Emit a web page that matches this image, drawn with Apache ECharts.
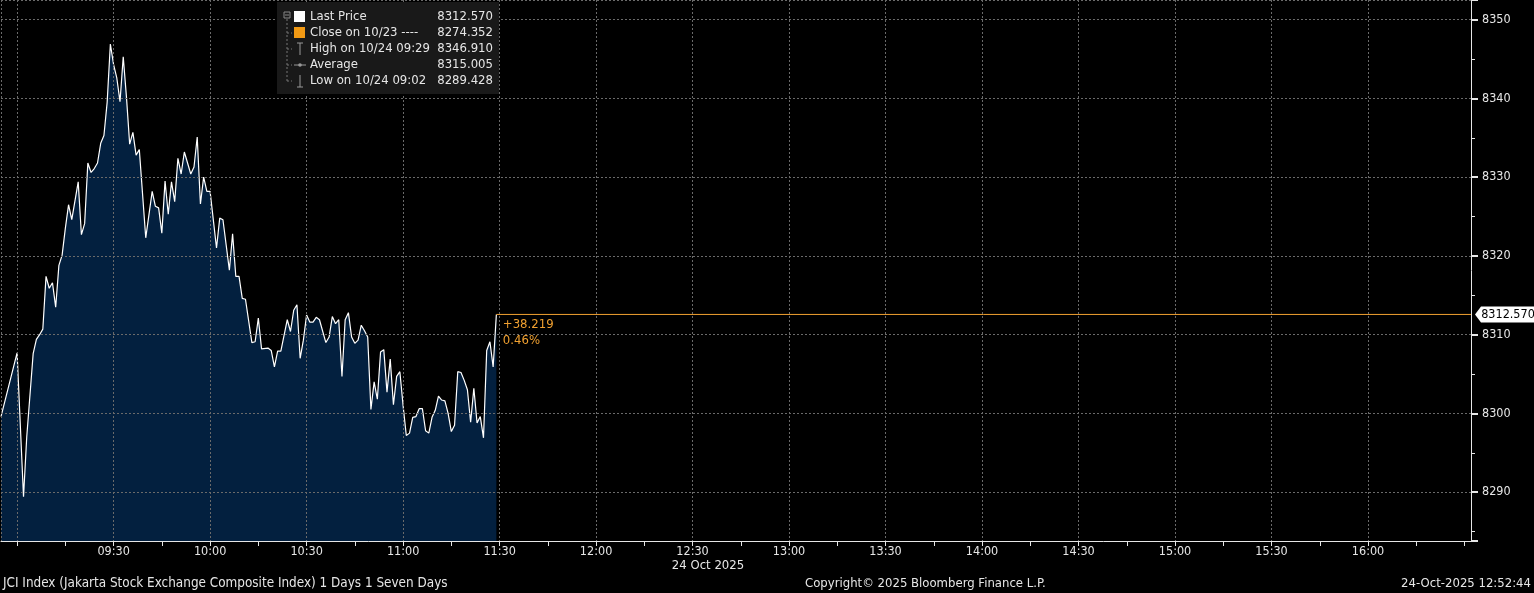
<!DOCTYPE html>
<html><head><meta charset="utf-8">
<script src="https://cdn.jsdelivr.net/npm/echarts@6/dist/echarts.min.js"></script>
<style>html,body{margin:0;padding:0;background:#000;overflow:hidden}#c{width:1534px;height:593px}</style>
</head><body><div id="c"></div><script>
const sessionStart = '08:55';
const sessionEnd = '16:32';
const times = ['08:55','09:00','09:02','09:03','09:05','09:06','09:07','09:08','09:09','09:10','09:11','09:12','09:13','09:14','09:15','09:16','09:17','09:19','09:20','09:21','09:22','09:23','09:24','09:25','09:26','09:27','09:28','09:29','09:30','09:31','09:32','09:33','09:34','09:35','09:36','09:37','09:38','09:40','09:42','09:43','09:44','09:45','09:46','09:47','09:48','09:49','09:50','09:51','09:52','09:54','09:55','09:56','09:57','09:58','09:59','10:00','10:02','10:03','10:04','10:06','10:07','10:08','10:09','10:10','10:11','10:13','10:14','10:15','10:16','10:18','10:19','10:20','10:21','10:22','10:24','10:25','10:26','10:27','10:28','10:29','10:30','10:31','10:32','10:33','10:34','10:36','10:37','10:38','10:39','10:40','10:41','10:42','10:43','10:44','10:45','10:46','10:47','10:48','10:49','10:50','10:51','10:52','10:53','10:54','10:55','10:56','10:57','10:58','10:59','11:00','11:01','11:02','11:03','11:04','11:05','11:06','11:07','11:08','11:09','11:10','11:11','11:12','11:13','11:14','11:15','11:16','11:17','11:18','11:19','11:20','11:21','11:22','11:23','11:24','11:25','11:26','11:27','11:28','11:29'];
const prices = [8299.6,8307.7,8289.43,8297.0,8307.6,8309.4,8310.0,8310.7,8317.4,8315.9,8316.6,8313.5,8318.8,8320.1,8323.5,8326.5,8324.6,8329.4,8322.7,8324.1,8331.8,8330.6,8331.1,8331.8,8334.3,8335.3,8339.5,8346.91,8344.3,8342.6,8339.6,8345.3,8340.2,8334.2,8335.7,8332.8,8333.5,8322.3,8328.2,8326.3,8326.1,8322.9,8329.5,8325.3,8329.4,8326.9,8332.4,8330.4,8333.2,8330.4,8331.3,8335.1,8326.6,8330.0,8328.2,8328.2,8321.0,8324.8,8324.6,8318.2,8322.8,8317.4,8317.4,8314.6,8314.5,8309.0,8309.1,8312.1,8308.2,8308.3,8308.0,8305.9,8307.9,8307.9,8311.9,8310.4,8313.1,8313.8,8307.0,8309.3,8312.5,8311.6,8311.6,8312.2,8311.9,8309.0,8309.7,8312.3,8311.4,8311.9,8304.7,8311.9,8312.8,8309.7,8308.9,8309.3,8311.2,8310.5,8309.7,8300.5,8304.0,8301.8,8307.8,8308.1,8302.7,8306.9,8301.1,8304.7,8305.3,8301.0,8297.2,8297.5,8299.5,8299.6,8300.6,8300.6,8297.8,8297.5,8299.5,8300.4,8302.2,8301.7,8301.6,8300.0,8297.7,8298.5,8305.3,8305.2,8304.2,8303.0,8298.9,8303.2,8298.8,8299.6,8296.9,8308.0,8309.1,8305.9,8312.57];
const lastPrice = 8312.570;
const lastPriceText = '8312.570';
const changeLines = ['+38.219', '0.46%'];
const legendNames = ['Last Price', 'Close on 10/23 ----', 'High on 10/24 09:29', 'Average', 'Low on 10/24 09:02'];
const legendValues = ['8312.570', '8274.352', '8346.910', '8315.005', '8289.428'];
const yRange = [8283.8, 8352.5];
const firstLabel = '09:30';
const lastLabel = '16:00';
const firstGrid = '09:00';
const dateLabel = '24 Oct 2025';
const footerLeft = 'JCI Index (Jakarta Stock Exchange Composite Index) 1 Days 1 Seven Days';
const footerMid = 'Copyright\u00a9 2025 Bloomberg Finance L.P.';
const footerRight = '24-Oct-2025 12:52:44';

const FONT = "'DejaVu Sans Condensed','Liberation Sans Narrow',sans-serif";
const FS = 13;
const AFS = 12.5;
const TXT = '#e6e6e6';
const ORANGE = '#f0a030';
const GRIDC = '#6a6a6a';

function toMin(t){ const p = t.split(':'); return (+p[0])*60 + (+p[1]); }
function fmt(m){ const h = Math.floor(m/60), mm = m%60; return (h<10?'0':'')+h+':'+(mm<10?'0':'')+mm; }
const cats = [];
for (let m = toMin(sessionStart); m <= toMin(sessionEnd); m++) cats.push(fmt(m));
const seriesData = times.map((t,i)=>[t, prices[i]]);
const lastTime = times[times.length-1];

const chart = echarts.init(document.getElementById('c'), null, {renderer:'canvas'});

const rowY = [17,33,49,65,81];
const legendEls = [
  {type:'rect', shape:{x:277,y:2,width:222,height:92}, style:{fill:'#191919'}, z:10},
  {type:'rect', shape:{x:284,y:12,width:6,height:6}, style:{fill:'none',stroke:'#888',lineWidth:1}, z:11},
  {type:'line', shape:{x1:285,y1:15,x2:289,y2:15}, style:{stroke:'#888',lineWidth:1}, z:11},
  {type:'line', shape:{x1:287,y1:19,x2:287,y2:81}, style:{stroke:'#777',lineWidth:1,lineDash:[2,2]}, z:11},
  {type:'rect', shape:{x:294,y:11,width:11,height:11}, style:{fill:'#ffffff'}, z:11},
  {type:'rect', shape:{x:294,y:27,width:11,height:11}, style:{fill:'#f29a14'}, z:11},
  {type:'line', shape:{x1:300,y1:43,x2:300,y2:55}, style:{stroke:'#999',lineWidth:1}, z:11},
  {type:'line', shape:{x1:297,y1:43,x2:303,y2:43}, style:{stroke:'#999',lineWidth:1}, z:11},
  {type:'line', shape:{x1:294,y1:65,x2:306,y2:65}, style:{stroke:'#999',lineWidth:1}, z:11},
  {type:'circle', shape:{cx:300,cy:65,r:1.8}, style:{fill:'#999'}, z:11},
  {type:'line', shape:{x1:300,y1:75,x2:300,y2:87}, style:{stroke:'#999',lineWidth:1}, z:11},
  {type:'line', shape:{x1:297,y1:87,x2:303,y2:87}, style:{stroke:'#999',lineWidth:1}, z:11}
];
[33,49,65,81].forEach(y=>legendEls.push({type:'line', shape:{x1:287,y1:y,x2:292,y2:y}, style:{stroke:'#777',lineWidth:1,lineDash:[2,2]}, z:11}));
legendNames.forEach((n,i)=>{
  legendEls.push({type:'text', x:310, y:rowY[i], style:{text:n, fill:TXT, font:FS+'px '+FONT, textAlign:'left', textVerticalAlign:'middle'}, z:12});
  legendEls.push({type:'text', x:493, y:rowY[i], style:{text:legendValues[i], fill:TXT, font:FS+'px '+FONT, textAlign:'right', textVerticalAlign:'middle'}, z:12});
});
const footerEls = [
  {type:'text', x:708, y:566, style:{text:dateLabel, fill:TXT, font:FS+'px '+FONT, textAlign:'center', textVerticalAlign:'middle'}},
  {type:'text', x:3, y:584, style:{text:footerLeft, fill:TXT, font:'13.4px '+FONT, textAlign:'left', textVerticalAlign:'middle'}},
  {type:'text', x:805, y:584, style:{text:footerMid, fill:TXT, font:FS+'px '+FONT, textAlign:'left', textVerticalAlign:'middle'}},
  {type:'text', x:1531, y:584, style:{text:footerRight, fill:TXT, font:FS+'px '+FONT, textAlign:'right', textVerticalAlign:'middle'}}
];

chart.setOption({
  backgroundColor:'#000',
  animation:false,
  grid:{left:1,right:63,top:0,bottom:52,containLabel:false},
  xAxis:{
    type:'category', data:cats, boundaryGap:false, z:5,
    axisLine:{show:true,lineStyle:{color:TXT,width:1}},
    axisTick:{show:true,interval:(i,v)=>toMin(v)%15===0,length:5,lineStyle:{color:TXT}},
    axisLabel:{interval:(i,v)=>{const m=toMin(v);return m%30===0&&m>=toMin(firstLabel)&&m<=toMin(lastLabel);},color:TXT,fontFamily:FONT,fontSize:AFS,margin:4,hideOverlap:false},
    splitLine:{show:true,interval:(i,v)=>{const m=toMin(v);return i===0||(m%30===0&&m>=toMin(firstGrid)&&m<=toMin(lastLabel));},lineStyle:{color:GRIDC,type:[2,2],width:1}}
  },
  yAxis:{
    type:'value', position:'right', min:yRange[0], max:yRange[1], minInterval:10, maxInterval:10, z:5,
    axisLine:{show:true,lineStyle:{color:TXT,width:1}},
    axisTick:{show:true,length:7,lineStyle:{color:TXT,width:2}},
    minorTick:{show:true,splitNumber:2,length:4,lineStyle:{color:TXT}},
    axisLabel:{color:TXT,fontFamily:FONT,fontSize:AFS,margin:11,formatter:v=>Math.abs(v%10)<1e-6?String(Math.round(v)):''},
    splitLine:{show:true,lineStyle:{color:GRIDC,type:[2,2],width:1}}
  },
  series:[
    {type:'line', data:seriesData, showSymbol:false, symbol:'none', z:2,
     lineStyle:{color:'#ffffff',width:1.2},
     areaStyle:{color:'#03203f',opacity:1,origin:'start'}},
    {type:'line', data:[[lastTime,lastPrice],[sessionEnd,lastPrice]], showSymbol:false, symbol:'none', z:3,
     lineStyle:{color:ORANGE,width:1},
     markPoint:{
       animation:false,
       data:[
         {coord:[lastTime,lastPrice], symbol:'rect', symbolSize:1, itemStyle:{color:'rgba(0,0,0,0)'},
          label:{show:true, position:[7,3], formatter:changeLines.join('\n'), color:ORANGE, fontFamily:FONT, fontSize:FS, lineHeight:16, align:'left', verticalAlign:'top'}},
         {coord:[sessionEnd,lastPrice], symbol:'path://M0,8 L6,0 L60,0 L60,16 L6,16 Z', symbolSize:[60,16], symbolKeepAspect:false, symbolOffset:[34,0], itemStyle:{color:'#ffffff'},
          label:{show:true, position:'inside', offset:[3,0], formatter:lastPriceText, color:'#000', fontFamily:FONT, fontSize:AFS}}
       ]
     }}
  ],
  graphic:legendEls.concat(footerEls)
});
</script></body></html>
